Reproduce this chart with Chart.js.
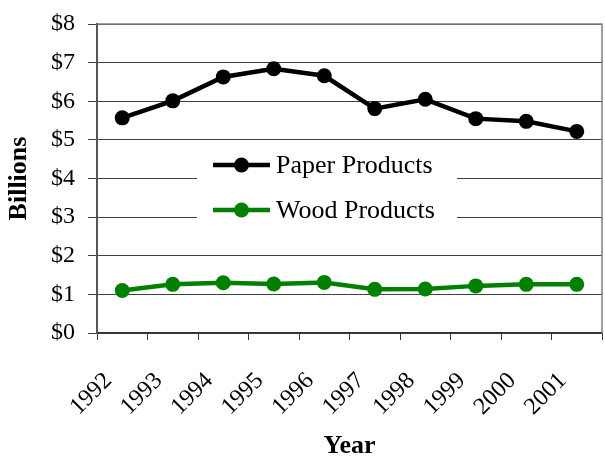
<!DOCTYPE html>
<html>
<head>
<meta charset="utf-8">
<script src="https://cdn.jsdelivr.net/npm/chart.js@4"></script>
<style>
  html, body { margin: 0; padding: 0; background: #ffffff; }
  #wrap { width: 605px; height: 457px; }
</style>
</head>
<body>
<div id="wrap"><canvas id="c" width="605" height="457"></canvas></div>
<script>
const years = ['1992', '1993', '1994', '1995', '1996', '1997', '1998', '1999', '2000', '2001'];
const paperProducts = [5.57, 6.01, 6.63, 6.84, 6.66, 5.81, 6.05, 5.55, 5.48, 5.22];
const woodProducts = [1.10, 1.26, 1.30, 1.27, 1.31, 1.13, 1.14, 1.22, 1.26, 1.26];
const seriesLabels = ['Paper Products', 'Wood Products'];
const yTicks = [0, 1, 2, 3, 4, 5, 6, 7, 8];

const SERIF = '"Liberation Serif", "Times New Roman", serif';
Chart.defaults.color = '#000';
Chart.defaults.font.family = SERIF;

const framePlugin = {
  id: 'frame',
  beforeDatasetsDraw(chart) {
    const a = chart.chartArea, ctx = chart.ctx;
    ctx.save();
    ctx.strokeStyle = '#808080';
    ctx.lineWidth = 1.5;
    ctx.beginPath();
    ctx.moveTo(a.left, a.top);
    ctx.lineTo(a.right, a.top);
    ctx.lineTo(a.right, a.bottom);
    ctx.stroke();
    ctx.restore();
  }
};

const innerLegend = {
  id: 'innerLegend',
  afterDatasetsDraw(chart) {
    const ctx = chart.ctx, a = chart.chartArea;
    const boxL = a.left + 100, boxT = a.top + 121, boxW = 260, boxH = 90;
    ctx.save();
    ctx.fillStyle = '#fff';
    ctx.fillRect(boxL, boxT, boxW, boxH);
    chart.data.datasets.forEach((ds, i) => {
      const cy = boxT + 20 + i * 45;
      const x0 = boxL + 16, x1 = boxL + 73;
      ctx.strokeStyle = ds.borderColor;
      ctx.lineWidth = ds.borderWidth;
      ctx.beginPath();
      ctx.moveTo(x0, cy);
      ctx.lineTo(x1, cy);
      ctx.stroke();
      ctx.fillStyle = ds.pointBackgroundColor;
      ctx.beginPath();
      ctx.arc((x0 + x1) / 2, cy, 7.5, 0, Math.PI * 2);
      ctx.fill();
      ctx.fillStyle = '#000';
      ctx.font = '26px ' + SERIF;
      ctx.textBaseline = 'middle';
      ctx.textAlign = 'left';
      ctx.fillText(ds.label, x1 + 6, cy + 1);
    });
    ctx.restore();
  }
};

new Chart(document.getElementById('c'), {
  type: 'line',
  data: {
    labels: years,
    datasets: [
      {
        label: seriesLabels[0],
        data: paperProducts,
        borderColor: '#000000',
        backgroundColor: '#000000',
        pointBackgroundColor: '#000000',
        pointBorderColor: '#000000',
        borderWidth: 4.5,
        pointRadius: 7.5,
        pointBorderWidth: 0,
        tension: 0
      },
      {
        label: seriesLabels[1],
        data: woodProducts,
        borderColor: '#008000',
        backgroundColor: '#008000',
        pointBackgroundColor: '#008000',
        pointBorderColor: '#008000',
        borderWidth: 4.5,
        pointRadius: 7.5,
        pointBorderWidth: 0,
        tension: 0
      }
    ]
  },
  options: {
    responsive: false,
    animation: false,
    devicePixelRatio: 1,
    layout: { autoPadding: false, padding: { top: 24, right: 3, left: 0, bottom: 0 } },
    plugins: {
      legend: { display: false },
      tooltip: { enabled: false }
    },
    scales: {
      x: {
        type: 'category',
        offset: true,
        afterFit(s) { s.height = 124; s.paddingRight = 0; s.paddingLeft = 0; },
        grid: {
          offset: true,
          drawOnChartArea: false,
          drawTicks: true,
          tickLength: 7,
          color: '#333'
        },
        border: { display: true, color: '#333', width: 1.5 },
        ticks: {
          minRotation: 45,
          maxRotation: 45,
          autoSkip: false,
          padding: 27,
          labelOffset: -14,
          font: { size: 24, family: SERIF },
          color: '#000'
        },
        title: {
          display: true,
          text: 'Year',
          font: { size: 26, weight: 'bold', family: SERIF, lineHeight: 0.85 },
          padding: { top: 0, bottom: 0 },
          color: '#000'
        }
      },
      y: {
        min: 0,
        max: 8,
        afterFit(s) { s.width = 97; s.paddingTop = 0; s.paddingBottom = 0; },
        afterBuildTicks(s) { s.ticks = yTicks.map(v => ({ value: v })); },
        grid: {
          color: '#404040',
          lineWidth: 1,
          tickLength: 9
        },
        border: { display: true, color: '#555', width: 2 },
        ticks: {
          padding: 13,
          font: { size: 24, family: SERIF },
          color: '#000',
          callback: (v) => '$' + v
        },
        title: {
          display: true,
          text: 'Billions',
          font: { size: 26, weight: 'bold', family: SERIF, lineHeight: 1.2 },
          padding: { top: 4, bottom: 0 },
          color: '#000'
        }
      }
    }
  },
  plugins: [framePlugin, innerLegend]
});
</script>
</body>
</html>
